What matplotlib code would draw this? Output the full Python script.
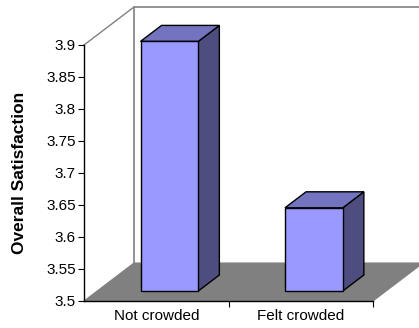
import matplotlib
matplotlib.use("Agg")
import matplotlib.pyplot as plt
from matplotlib.patches import Polygon

plt.rcParams['font.family'] = ['Liberation Sans', 'DejaVu Sans']

categories = ["Not crowded", "Felt crowded"]
satisfaction = [3.89, 3.63]
y_ticks = [3.5, 3.55, 3.6, 3.65, 3.7, 3.75, 3.8, 3.85, 3.9]
y_tick_labels = ["3.5", "3.55", "3.6", "3.65", "3.7", "3.75", "3.8", "3.85", "3.9"]

W, H = 419, 328
fig = plt.figure(figsize=(W / 100, H / 100), dpi=100)
ax = fig.add_axes([84 / W, 27 / H, 289 / W, 256 / H])
ymin, ymax = 3.5, 3.9
xmin, xmax = -0.5, len(categories) - 0.5
ax.set_xlim(xmin, xmax)
ax.set_ylim(ymin, ymax)

# depth of the 3-D box, expressed in data units (pixels -> data)
px_x = (xmax - xmin) / 289.0
px_y = (ymax - ymin) / 256.0
ddx, ddy = 50 * px_x, 38 * px_y

wall_col = "#808080"
front_col = "#9999FF"
top_col = "#7373BF"
side_col = "#4D4D80"

def poly(pts, fc, ec="none", lw=0.0, z=1):
    p = Polygon(pts, closed=True, facecolor=fc, edgecolor=ec, linewidth=lw,
                zorder=z, clip_on=False)
    ax.add_patch(p)

# floor
poly([(xmin, ymin), (xmax, ymin), (xmax + ddx, ymin + ddy), (xmin + ddx, ymin + ddy)],
     wall_col, ec=wall_col, lw=0.8, z=1)
# back wall edges and left wall outline
ax.plot([xmin + ddx, xmin + ddx, xmax + ddx], [ymin + ddy, ymax + ddy, ymax + ddy],
        color=wall_col, lw=1.2, clip_on=False, zorder=1.5)
ax.plot([xmin, xmin + ddx], [ymax, ymax + ddy], color=wall_col, lw=1.0,
        clip_on=False, zorder=1.5)

# bars as 3-D boxes
bar_w = 0.40
f0 = 10 / 38.0          # front face position within the depth
bd = 16 / 38.0          # bar depth as fraction of box depth
for i, v in enumerate(satisfaction):
    xl = i - bar_w / 2 + f0 * ddx
    xr = i + bar_w / 2 + f0 * ddx
    yb = ymin + f0 * ddy
    yt = v + f0 * ddy
    ox, oy = bd * ddx, bd * ddy
    poly([(xr, yb), (xr, yt), (xr + ox, yt + oy), (xr + ox, yb + oy)],
         side_col, ec="black", lw=1.0, z=3)
    poly([(xl, yt), (xr, yt), (xr + ox, yt + oy), (xl + ox, yt + oy)],
         top_col, ec="black", lw=1.0, z=3)
    poly([(xl, yb), (xr, yb), (xr, yt), (xl, yt)],
         front_col, ec="black", lw=1.0, z=4)

for s in ["top", "right"]:
    ax.spines[s].set_visible(False)
for s in ["left", "bottom"]:
    ax.spines[s].set_color("black")
    ax.spines[s].set_linewidth(1.0)
    ax.spines[s].set_zorder(5)
ax.patch.set_alpha(0)

ax.set_yticks(y_ticks)
ax.set_yticklabels(y_tick_labels, fontsize=11)
ax.tick_params(axis="y", direction="out", length=4, width=0.8, pad=2)

ax.set_xticks(range(len(categories)))
ax.set_xticklabels(categories, fontsize=11)
ax.tick_params(axis="x", which="major", length=0, pad=6)
ax.set_xticks([xmin + 1, xmin + 2], minor=True)
ax.tick_params(axis="x", which="minor", direction="out", length=4, width=0.8)

ax.set_ylabel("Overall Satisfaction", fontsize=12.5, fontweight="bold")
ax.yaxis.set_label_coords((27 - 84) / 289.0, 0.5)

fig.savefig("out.png", dpi=100)
